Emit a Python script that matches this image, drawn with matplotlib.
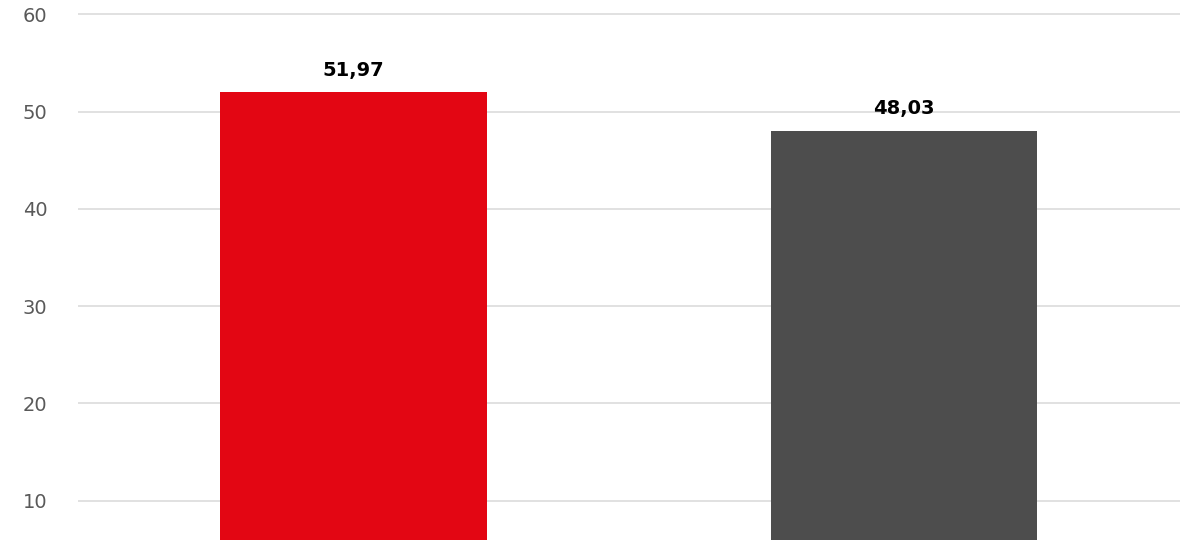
import matplotlib.pyplot as plt

# Data
categories = ['A', 'B']
values = [51.97, 48.03]
bar_colors = ['#e30613', '#4d4d4d']
value_labels = ['51,97', '48,03']
y_ticks = [10, 20, 30, 40, 50, 60]

fig = plt.figure(figsize=(12, 5.4), dpi=100)
ax = fig.add_axes([0.065, 0.0, 0.918, 1.0])

x = range(len(categories))
bars = ax.bar(x, values, width=0.484, color=bar_colors, zorder=3)

for b, lab in zip(bars, value_labels):
    ax.annotate(lab, (b.get_x() + b.get_width() / 2, b.get_height()),
                xytext=(0, 9), textcoords='offset points',
                ha='center', va='bottom', fontsize=14, fontweight='bold',
                color='black')

ax.set_xlim(-0.5, 1.5)
ax.set_ylim(5.97, 61.46)
ax.set_yticks(y_ticks)
ax.set_xticks([])
ax.grid(axis='y', color='#dcdcdc', linewidth=1.2, zorder=0)
ax.tick_params(axis='y', length=0, pad=22, labelsize=14, labelcolor='#595959')
for s in ax.spines.values():
    s.set_visible(False)

fig.savefig('out.png', dpi=100)
